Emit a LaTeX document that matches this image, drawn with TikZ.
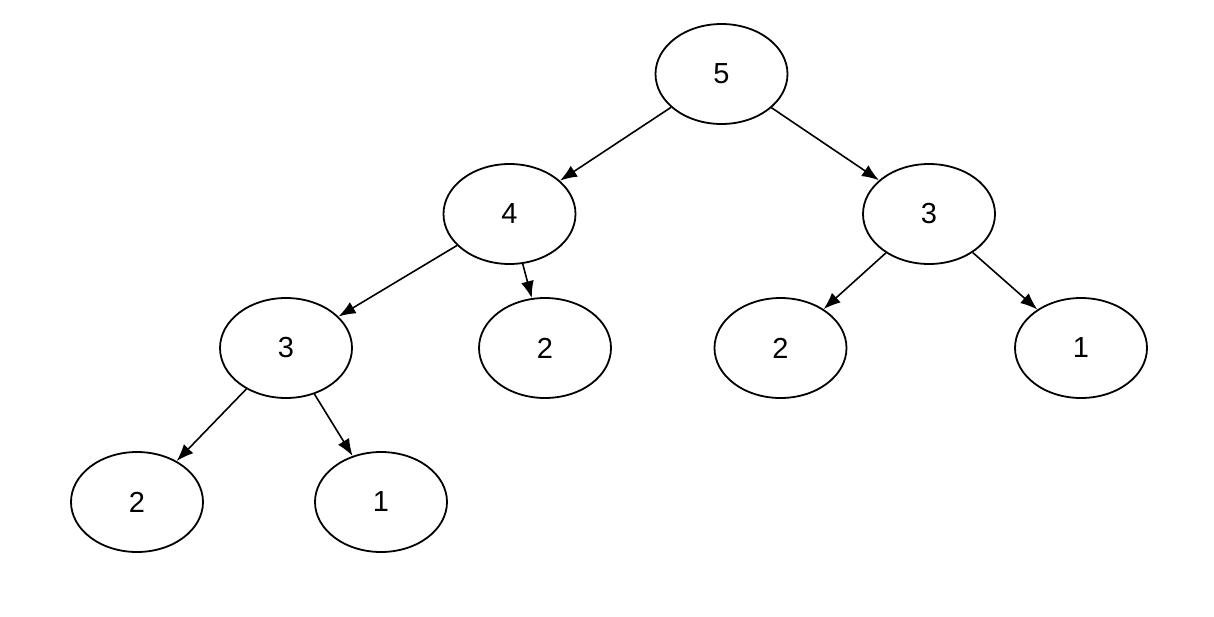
\documentclass[tikz,border=0pt]{standalone}
\usepackage{fontspec}
\setmainfont{Liberation Sans}
\usetikzlibrary{shapes.geometric,arrows.meta}
\begin{document}
\begin{tikzpicture}[x=1pt,y=-1pt,
  tnode/.style={ellipse,draw,line width=1.8pt,minimum width=132pt,minimum height=100pt,inner sep=0pt,font=\fontsize{29}{34}\selectfont},
  edge/.style={line width=1.6pt,-{Latex[length=17pt,width=13pt]}}]
\useasboundingbox (0,0) rectangle (1214,616);
\node[tnode] (n5) at (721.5,74) {5};
\node[tnode] (n4) at (509.5,214) {4};
\node[tnode] (n3r) at (929,214) {3};
\node[tnode] (n3l) at (286,348) {3};
\node[tnode] (n2m) at (545,348) {2};
\node[tnode] (n2r) at (780.5,348) {2};
\node[tnode] (n1r) at (1081,348) {1};
\node[tnode] (n2b) at (137,502) {2};
\node[tnode] (n1b) at (381,502) {1};
\draw[edge] (n5) -- (n4);
\draw[edge] (n5) -- (n3r);
\draw[edge] (n4) -- (n3l);
\draw[edge] (n4) -- (n2m);
\draw[edge] (n3r) -- (n2r);
\draw[edge] (n3r) -- (n1r);
\draw[edge] (n3l) -- (n2b);
\draw[edge] (n3l) -- (n1b);
\end{tikzpicture}
\end{document}
